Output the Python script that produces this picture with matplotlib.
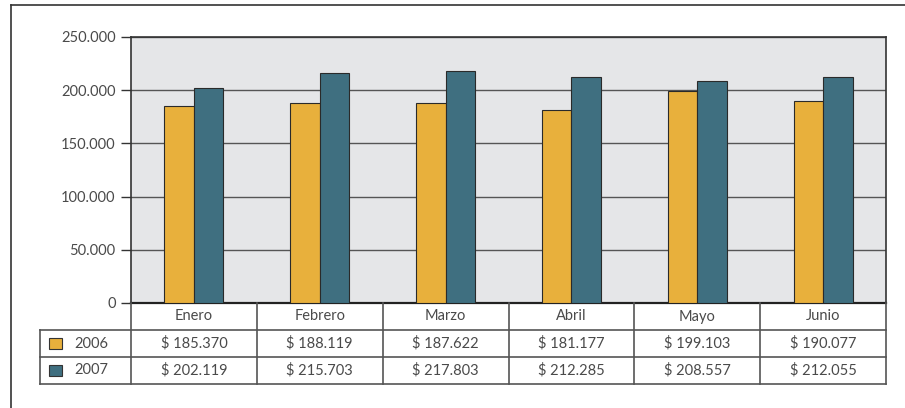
import numpy as np
import matplotlib
matplotlib.use("Agg")
import matplotlib.pyplot as plt
from matplotlib.patches import Rectangle
from matplotlib.lines import Line2D

plt.rcParams['font.family'] = ['Lato', 'DejaVu Sans']

months = ['Enero', 'Febrero', 'Marzo', 'Abril', 'Mayo', 'Junio']
years = ['2006', '2007']
v2006 = [185370, 188119, 187622, 181177, 199103, 190077]
v2007 = [202119, 215703, 217803, 212285, 208557, 212055]
yticks = [0, 50000, 100000, 150000, 200000, 250000]
ytick_labels = ['0', '50.000', '100.000', '150.000', '200.000', '250.000']

c2006 = '#e8b03c'
c2007 = '#3f6f80'
txt = '#4a4a4a'
edge = '#2a2a2a'

W, H = 905, 408
fig = plt.figure(figsize=(W / 100, H / 100), dpi=100)

def px(x0, y0, x1, y1):
    return [x0 / W, 1 - y1 / H, (x1 - x0) / W, (y1 - y0) / H]

# outer frame
fig.add_artist(Line2D([11 / W, 11 / W], [0, 1 - 5 / H], color='#333333', lw=1.2))
fig.add_artist(Line2D([11 / W, 1], [1 - 5 / H, 1 - 5 / H], color='#333333', lw=1.2))

ax = fig.add_axes(px(131, 37, 886, 303))
ax.set_facecolor('#e5e6e8')
x = np.arange(len(months))
bw = 0.235
ax.bar(x - bw / 2, v2006, bw, color=c2006, edgecolor=edge, linewidth=0.8, zorder=3)
ax.bar(x + bw / 2, v2007, bw, color=c2007, edgecolor=edge, linewidth=0.8, zorder=3)
ax.set_xlim(-0.5, len(months) - 0.5)
ax.set_ylim(0, 250000)
ax.set_yticks(yticks)
ax.set_yticklabels(ytick_labels, fontsize=10.5, color=txt)
ax.set_xticks([])
ax.yaxis.grid(True, color='#555555', lw=1.0, zorder=1)
ax.set_axisbelow(True)
ax.tick_params(axis='y', length=7, width=1, color='#333333', pad=4)
for s in ['left', 'top', 'right']:
    ax.spines[s].set_color('#333333')
    ax.spines[s].set_linewidth(1.2)
ax.spines['bottom'].set_color('#222222')
ax.spines['bottom'].set_linewidth(1.6)

# data table below
lab_w = (131 - 40) / ((886 - 131) / len(months))
tax = fig.add_axes(px(40, 303, 886, 384))
tax.set_xlim(-0.5 - lab_w, len(months) - 0.5)
tax.set_ylim(3, 0)
tax.axis('off')
lc = '#555555'
# header row verticals
for b in np.arange(-0.5, len(months), 1.0):
    tax.plot([b, b], [0, 3], color=lc, lw=1.2, clip_on=False)
tax.plot([-0.5 - lab_w, -0.5 - lab_w], [1, 3], color=lc, lw=1.2, clip_on=False)
for yy in [1, 2, 3]:
    tax.plot([-0.5 - lab_w, len(months) - 0.5], [yy, yy], color=lc, lw=1.2, clip_on=False)

for i, m in enumerate(months):
    tax.text(i, 0.5, m, ha='center', va='center', fontsize=10.5, color=txt)
    tax.text(i, 1.5, '$ ' + f'{v2006[i]:,}'.replace(',', '.'), ha='center', va='center', fontsize=10.5, color=txt)
    tax.text(i, 2.5, '$ ' + f'{v2007[i]:,}'.replace(',', '.'), ha='center', va='center', fontsize=10.5, color=txt)

for r, (yr, c) in enumerate(zip(years, [c2006, c2007])):
    x0 = -0.5 - lab_w + 0.07
    tax.add_patch(Rectangle((x0, r + 1.28), 0.105, 0.44, facecolor=c, edgecolor='#333333', lw=0.8, clip_on=False))
    tax.text(x0 + 0.2, r + 1.5, yr, ha='left', va='center', fontsize=10.5, color=txt)

fig.savefig('out.png', dpi=100)
